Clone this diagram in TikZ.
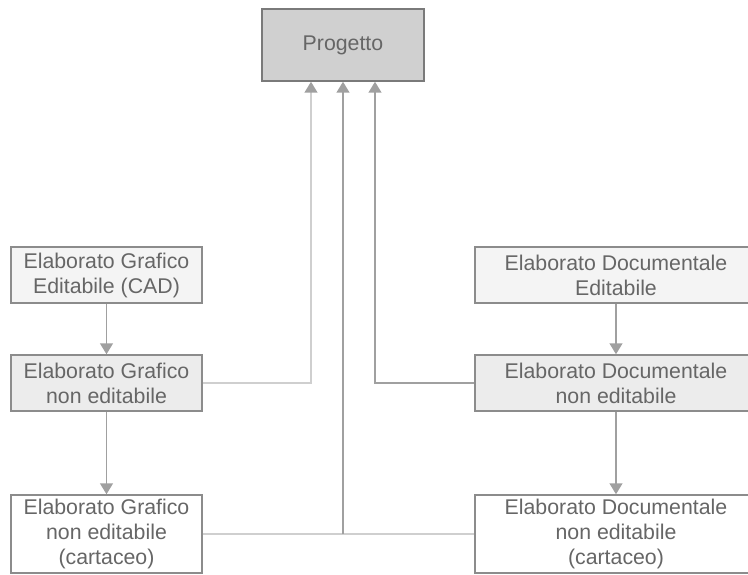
\documentclass[tikz,border=0pt]{standalone}
\usepackage{fontspec}
\setmainfont{Liberation Sans}
\usetikzlibrary{arrows.meta}
\definecolor{txtgray}{HTML}{666666}
\definecolor{boxline}{HTML}{8C8C8C}
\definecolor{topline}{HTML}{7A7A7A}
\definecolor{topfill}{HTML}{D0D0D0}
\definecolor{midfill}{HTML}{ECECEC}
\definecolor{upfill}{HTML}{F4F4F4}
\definecolor{linkdark}{HTML}{A0A0A0}
\definecolor{linklight}{HTML}{CFCFCF}
\tikzset{
  box/.style={draw=boxline, line width=1.5pt, text=txtgray, align=center,
    inner sep=0pt, font=\fontsize{21.3}{25}\selectfont},
  mainbox/.style={box, draw=topline, fill=topfill, minimum width=162pt, minimum height=72pt},
  leftbox/.style={box, minimum width=191pt},
  rightbox/.style={box, minimum width=282pt},
  editbox/.style={fill=upfill, minimum height=56pt},
  pdfbox/.style={fill=midfill, minimum height=56pt},
  paperbox/.style={fill=white, minimum height=78pt},
  link/.style={draw=linkdark, line width=1.5pt},
  linkpale/.style={draw=linklight, line width=1.5pt},
  tip/.style={-{Triangle[width=13pt,length=11pt,color=linkdark]}},
}
\begin{document}
\begin{tikzpicture}[x=1pt,y=-1pt]
\useasboundingbox (0,0) rectangle (748,575);
\clip (0,0) rectangle (748,575);

% project at the top
\node[mainbox] (prog) at (343,45) {Progetto};

% graphic documents, left column
\node[leftbox,editbox]  (gA) at (106.5,275) {Elaborato Grafico\\Editabile (CAD)};
\node[leftbox,pdfbox]   (gB) at (106.5,383) {Elaborato Grafico\\non editabile};
\node[leftbox,paperbox] (gC) at (106.5,534) {Elaborato Grafico\\non editabile\\(cartaceo)};

% written documents, right column
\node[rightbox,editbox]  (dA) at (616,275) {Elaborato Documentale\\Editabile};
\node[rightbox,pdfbox]   (dB) at (616,383) {Elaborato Documentale\\non editabile};
\node[rightbox,paperbox] (dC) at (616,534) {Elaborato Documentale\\non editabile\\(cartaceo)};

% derivation chains
\draw[link,tip] (gA) -- (gB);
\draw[link,tip] (gB) -- (gC);
\draw[link,tip] (dA) -- (dB);
\draw[link,tip] (dB) -- (dC);

% links up to the project
\coordinate (pl) at ([xshift=-32pt]prog.south);
\coordinate (pr) at ([xshift=32pt]prog.south);
\coordinate (j) at (prog.south |- gC.east);
\draw[linkpale,tip] (gB.east) -| (pl);
\draw[link,tip] (dB.west) -| (pr);
\draw[linkpale] (gC.east) -- (dC.west);
\draw[link,tip] (j) -- (prog.south);
\end{tikzpicture}
\end{document}
